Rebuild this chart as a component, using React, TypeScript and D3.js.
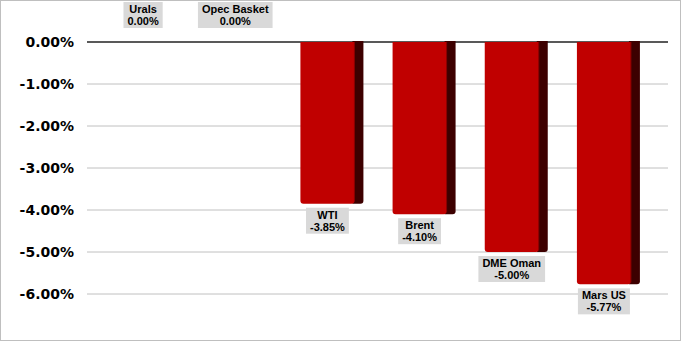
import React from "react";
import * as d3 from "d3";

const categories = ["Urals", "Opec Basket", "WTI", "Brent", "DME Oman", "Mars US"];
const values = [0.0, 0.0, -3.85, -4.1, -5.0, -5.77];
const yTicks = [0, -1, -2, -3, -4, -5, -6];

const W = 681;
const H = 341;
const LABEL_FONT = "bold 11px 'Liberation Sans', Arial, sans-serif";

let ctx: CanvasRenderingContext2D | null = null;
function measure(t: string): number {
  if (!ctx) {
    const c = document.createElement("canvas");
    ctx = c.getContext("2d");
  }
  if (!ctx) return t.length * 6;
  ctx.font = LABEL_FONT;
  return ctx.measureText(t).width;
}

export default function App() {
  const y = d3.scaleLinear().domain([0, -6]).range([42, 294]);
  const x = d3.scaleBand<string>().domain(categories).range([97, 650]).paddingInner(0).paddingOuter(0);
  const gridX0 = 87;
  const gridX1 = 668;
  const fmt = (v: number) => d3.format(".2f")(v).replace("\u2212", "-") + "%";

  return (
    <svg width={W} height={H} style={{ position: "absolute", left: 0, top: 0 }}>
      <rect x={0.5} y={0.5} width={W - 1} height={H - 1} fill="#fff" stroke="#bfbfbf" />
      {yTicks.map((t) => (
        <g key={t}>
          <line x1={gridX0} x2={gridX1} y1={y(t)} y2={y(t)} stroke={t === 0 ? "#595959" : "#c0c0c0"} strokeWidth={t === 0 ? 2 : 1} />
          <text x={74} y={y(t) + 5} textAnchor="end" fontFamily="'DejaVu Sans', Verdana, sans-serif" fontWeight="bold" fontSize={14} fill="#000">
            {fmt(t)}
          </text>
        </g>
      ))}
      {categories.map((c, i) => {
        const v = values[i];
        const cx = x(c)! + x.bandwidth() / 2;
        const x0 = cx - 27;
        const x1 = cx + 27;
        const x2 = cx + 36;
        const top = y(0);
        const bot = y(v);
        const r = 3;
        const hasBar = v !== 0;
        const l1 = c;
        const l2 = fmt(v);
        const tw = Math.max(measure(l1), measure(l2));
        const bw = tw + 8;
        const by = hasBar ? bot + 4 : 2;
        return (
          <g key={c}>
            {hasBar && (
              <>
                <path
                  d={`M${x1 - 2},${top - 1} L${x2},${top - 1} L${x2},${bot - r} Q${x2},${bot} ${x2 - r},${bot} L${x1 - 2},${bot} Z`}
                  fill="#3d0000"
                />
                <path
                  d={`M${x0},${top} L${x1},${top} L${x1},${bot - r} Q${x1},${bot} ${x1 - r},${bot} L${x0 + r},${bot} Q${x0},${bot} ${x0},${bot - r} Z`}
                  fill="#c00000"
                />
                <line x1={x1} x2={x1} y1={top} y2={bot - 2} stroke="#8a0000" strokeWidth={1} />
              </>
            )}
            <rect x={cx - bw / 2} y={by} width={bw} height={26} fill="#d9d9d9" />
            <text x={cx} y={by + 11} textAnchor="middle" style={{ font: LABEL_FONT }} fill="#000">
              {l1}
            </text>
            <text x={cx} y={by + 23} textAnchor="middle" style={{ font: LABEL_FONT }} fill="#000">
              {l2}
            </text>
          </g>
        );
      })}
    </svg>
  );
}
